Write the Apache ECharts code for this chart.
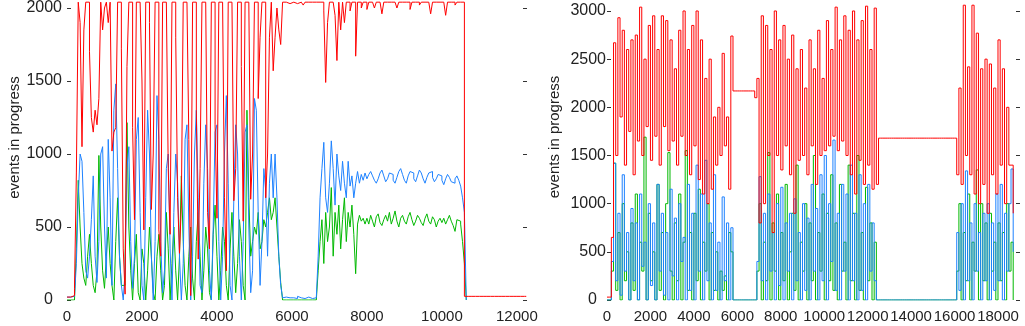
<!DOCTYPE html>
<html>
<head>
<meta charset="utf-8">
<script src="https://cdn.jsdelivr.net/npm/echarts@6/dist/echarts.min.js"></script>
<style>
  html, body { margin: 0; padding: 0; background: #fff; }
  #main { width: 1025px; height: 326px; }
</style>
</head>
<body>
<div id="main"></div>
<script>
// sampling interval of each run (x units)
const leftStep = 50;
const rightStep = 100;

const leftXTicks = [0, 2000, 4000, 6000, 8000, 10000, 12000];
const leftYTicks = [0, 500, 1000, 1500, 2000];
const rightXTicks = [0, 2000, 4000, 6000, 8000, 10000, 12000, 14000, 16000, 18000];
const rightYTicks = [0, 500, 1000, 1500, 2000, 2500, 3000];

// left run
const leftRed = [
  20,20,25,30,80,870,2040,1900,1050,1850,
  2040,2040,1700,1250,1150,1300,1200,1380,2040,1850,
  2000,2040,1900,2040,1020,1150,1180,2040,2040,1720,
  350,40,1600,2040,2040,1180,550,2040,2040,2040,
  1500,480,2040,2040,1900,620,1000,2040,2040,480,
  300,2040,2040,2040,900,450,2040,2040,1800,700,
  320,650,2040,2040,2040,1100,30,2040,2040,1300,
  280,900,2040,2040,2040,600,350,2040,2040,1200,
  560,2040,2040,2040,700,200,2040,2040,2040,680,
  900,2040,2040,1600,540,2040,2040,2040,690,1000,
  2040,2040,1380,1800,2040,2040,700,1000,1800,2040,
  1570,1800,2000,1850,1750,2040,2040,2040,2030,2040,
  2040,2040,2030,2040,2040,2040,2020,2040,2040,2040,
  2040,2030,2040,2040,2040,2040,2040,1980,1490,1900,
  2040,2040,2040,1950,1640,2040,1850,2040,1900,2040,
  2040,1980,2040,2040,1670,2040,2040,2000,2040,2040,
  1990,2040,2040,2040,2000,2040,2040,2040,1960,2040,
  2040,2030,2040,2040,2040,2040,2000,2040,2040,2040,
  2040,2040,2040,1990,2040,2040,2040,2040,2020,2040,
  2040,2040,2040,2040,1960,2040,2040,2040,2040,2040,
  2040,2030,1950,2040,2040,2040,2040,2020,2040,2040,
  2040,2040,25,25,25,25,25,25,25,25,
  25,25,25,25,25,25,25,25,25,25,
  25,25,25,25,25,25,25,25,25,25,
  25,25,25,25,25,25
];
const leftBlue = [
  20,20,20,25,30,250,700,1000,950,600,
  200,150,300,550,850,300,120,400,1000,1050,
  500,150,1100,700,100,1300,1480,900,300,100,
  0,200,900,1050,400,80,300,1100,1250,600,
  100,0,700,1300,1000,300,0,400,1400,1100,
  400,50,200,900,1000,350,0,600,1000,800,
  300,0,250,1100,1200,500,0,300,1000,1300,
  700,100,50,800,1200,900,200,0,500,1150,
  1200,400,0,300,1000,1400,800,100,0,700,
  1200,1000,300,0,400,1150,1200,500,50,200,
  1380,1300,600,100,400,900,750,300,800,1000,
  700,1000,700,300,100,15,20,10,15,20,
  15,20,10,25,15,20,10,15,20,15,
  10,20,15,10,300,700,900,1080,700,600,
  800,1090,900,650,1000,850,750,950,800,700,
  950,780,850,700,800,880,800,860,820,870,
  830,860,880,850,820,800,830,870,890,850,
  810,830,870,860,820,800,840,880,900,860,
  820,800,850,880,870,830,810,850,890,870,
  830,800,840,870,880,840,810,830,860,850,
  820,790,830,860,840,810,800,830,850,820,
  780,700,600,0
];
const leftGreen = [
  0,0,0,0,0,350,820,500,250,150,
  100,300,450,250,100,50,200,990,500,200,
  80,300,500,250,100,0,400,700,300,100,
  100,300,1215,500,200,0,250,450,50,0,
  350,250,0,200,500,300,50,0,300,450,
  200,0,100,600,350,0,250,500,200,0,
  300,850,400,100,0,300,500,150,0,400,
  600,300,0,200,500,350,50,0,450,650,
  300,0,200,500,400,100,0,350,600,300,
  50,250,550,400,100,0,1300,700,300,400,
  500,450,600,350,400,550,500,600,700,550,
  600,700,500,300,120,0,0,0,0,0,
  0,0,0,0,0,0,0,0,0,0,
  0,0,0,0,200,400,550,250,600,400,
  500,770,300,600,450,650,350,550,700,400,
  600,500,650,450,180,520,580,540,560,520,
  560,520,580,540,500,570,590,530,510,550,
  580,540,600,520,560,610,540,500,560,580,
  540,520,570,600,550,510,540,580,560,530,
  510,560,590,540,520,570,550,500,540,560,
  530,560,520,550,580,540,510,470,550,540,
  520,400,250,0
];

// right run
const rightRed = [
  30,30,650,
  2670,1500,2930,1900,2800,1400,2600,1750,2700,1300,
  2750,1650,3040,1500,2500,1800,2850,1450,2950,1700,
  2600,1400,2950,1800,2900,1550,2700,1650,2400,1400,
  2800,1700,3000,1500,2600,1300,2850,1600,3000,1250,
  2700,1100,2300,1000,2500,1150,1900,1400,2000,1500,
  2560,1600,1900,1150,2740,
  2170,2170,2170,2170,2170,2170,2170,2170,2170,2170,
  2100,2300,
  800,2950,1000,2850,1500,2600,700,3000,1500,2700,
  1350,2850,1600,2500,1300,2750,900,2400,1450,2600,
  1500,2200,1300,2700,1600,2400,1200,2800,1500,2300,
  1550,2900,1600,2600,1700,3040,1550,2700,1650,2950,
  1500,2800,1300,3000,1100,2700,1450,2900,1200,3050,
  1400,2600,1150,3030,
  1200,
  1680,1680,1680,1680,1680,1680,1680,1680,1680,1680,
  1680,1680,1680,1680,1680,1680,1680,1680,1680,1680,
  1680,1680,1680,1680,1680,1680,1680,1680,1680,1680,
  1680,1680,1680,1680,1680,1680,
  1300,2200,1200,3060,1500,2420,1300,3060,1100,2770,
  1000,2400,1200,2500,900,2450,1300,2200,1100,2700,
  1400,2400,1000,2000,1400,1400,900
];
const rightBlue = [
  0,0,
  400,1420,200,900,50,1300,300,700,0,950,
  200,800,0,1100,350,600,0,1000,150,800,
  0,1200,300,900,50,700,0,1150,250,850,
  0,1000,400,650,0,1200,100,900,0,1400,
  300,1100,0,1450,200,800,0,1300,100,600,
  0,1070,200,800,0,750,
  0,0,0,0,0,0,0,0,0,0,0,
  400,
  1280,200,900,0,1100,300,700,0,1000,150,
  1170,0,800,300,900,0,1050,200,700,0,
  1000,100,850,0,1200,300,950,0,1300,200,
  1500,0,1000,400,1660,100,900,0,1200,300,
  1100,0,1400,200,900,0,1300,100,1000,0,
  1200,300,800,200,
  0,0,0,0,0,0,0,0,0,0,
  0,0,0,0,0,0,0,0,0,0,
  0,0,0,0,0,0,0,0,0,0,
  0,0,0,0,0,0,0,
  700,100,1000,0,1340,200,800,0,1000,300,
  700,0,900,200,1000,0,800,100,1100,200,
  1200,0,900,300,1000,1360,500
];
const rightGreen = [
  0,0,
  300,1420,100,700,0,1000,200,500,0,800,
  100,1100,0,600,300,1690,0,900,200,500,
  0,1200,100,700,0,1000,1530,300,0,800,
  200,1100,0,600,1550,100,700,0,900,200,
  1150,0,600,300,1000,0,700,100,500,0,
  300,100,250,0,700,500,
  0,0,0,0,0,0,0,0,0,0,0,
  300,
  1000,0,600,200,1530,0,800,300,1100,0,
  700,200,1200,0,500,900,100,1400,0,600,
  300,1000,0,800,200,1500,0,700,300,1100,
  0,900,200,1300,100,800,0,1200,300,600,
  0,1400,200,900,0,1500,100,700,0,1170,
  200,800,0,600,
  0,0,0,0,0,0,0,0,0,0,
  0,0,0,0,0,0,0,0,0,0,
  0,0,0,0,0,0,0,0,0,0,
  0,0,0,0,0,0,0,
  300,1000,0,700,200,1100,0,600,300,1350,
  0,1000,200,800,0,900,300,600,0,800,
  200,700,0,1000,300,600,0
];

const RED = '#ff0000';
const BLUE = '#1e82ff';
const GREEN = '#00b800';
const FONT = 'Liberation Sans, Arial, sans-serif';

function pairs(vals, step) {
  return vals.map((v, i) => [i * step, v]);
}

function xAxis(gridIndex, max, ticks) {
  return {
    type: 'value', gridIndex: gridIndex, min: 0, max: max,
    axisLine: { show: false }, axisTick: { show: false }, splitLine: { show: false },
    axisLabel: {
      customValues: ticks, margin: 9, hideOverlap: false,
      showMinLabel: true, showMaxLabel: true,
      fontSize: 15, color: '#222', fontFamily: FONT,
      formatter: v => String(v)
    }
  };
}

function yAxisLeft(gridIndex, max, ticks, margin) {
  return {
    type: 'value', gridIndex: gridIndex, min: 0, max: max, position: 'left',
    name: 'events in progress', nameLocation: 'middle', nameGap: 45,
    nameTextStyle: { fontSize: 15, color: '#222', fontFamily: FONT, padding: [0, 0, 0, 26] },
    axisLine: { show: false }, splitLine: { show: false },
    axisTick: { show: true, inside: true, length: 4, customValues: ticks, lineStyle: { color: '#333' } },
    axisLabel: {
      customValues: ticks, margin: margin,
      fontSize: 16, color: '#222', fontFamily: FONT,
      formatter: v => v === 0 ? '{z|0}' : String(v),
      rich: { z: { fontSize: 16, color: '#222', fontFamily: FONT, padding: [0, 9, 0, 0] } }
    }
  };
}

function yAxisRight(gridIndex, max, ticks) {
  return {
    type: 'value', gridIndex: gridIndex, min: 0, max: max, position: 'right',
    axisLine: { show: false }, splitLine: { show: false }, axisLabel: { show: false },
    axisTick: { show: true, inside: true, length: 4, customValues: ticks, lineStyle: { color: '#333' } }
  };
}

function line(data, color, xi, yi) {
  return {
    type: 'line', step: 'end', data: data, xAxisIndex: xi, yAxisIndex: yi,
    showSymbol: false, symbol: 'none', silent: true,
    lineStyle: { width: 1, color: color }, itemStyle: { color: color }
  };
}

const myChart = echarts.init(document.getElementById('main'));

const option = {
  animation: false,
  backgroundColor: '#fff',
  grid: [
    { left: 67, right: 498, top: 0, bottom: 26 },
    { left: 607, right: 5, top: 0, bottom: 26 }
  ],
  xAxis: [
    xAxis(0, 12270, leftXTicks),
    xAxis(1, 19013, rightXTicks)
  ],
  yAxis: [
    yAxisLeft(0, 2048, leftYTicks, 5),
    yAxisRight(0, 2048, leftYTicks),
    yAxisLeft(1, 3114, rightYTicks, 1),
    yAxisRight(1, 3114, rightYTicks)
  ],
  series: [
    line(pairs(leftGreen, leftStep), GREEN, 0, 0),
    line(pairs(leftBlue, leftStep), BLUE, 0, 0),
    line(pairs(leftRed, leftStep), RED, 0, 0),
    line(pairs(rightGreen, rightStep), GREEN, 1, 2),
    line(pairs(rightBlue, rightStep), BLUE, 1, 2),
    line(pairs(rightRed, rightStep), RED, 1, 2)
  ]
};

myChart.setOption(option);
</script>
</body>
</html>
